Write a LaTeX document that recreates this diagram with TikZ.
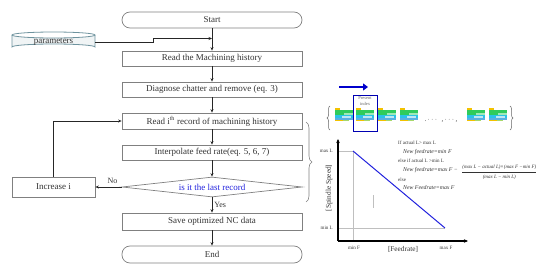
\documentclass[tikz,border=0pt]{standalone}
\usepackage{fontspec}
\usepackage{amsmath}
\setmainfont{Liberation Serif}
\usetikzlibrary{arrows.meta,shapes.geometric,decorations.pathreplacing}
\definecolor{boxline}{HTML}{808080}
\definecolor{txt}{HTML}{333333}
\definecolor{cyl}{HTML}{6E939E}
\definecolor{qblue}{HTML}{2222DD}
\definecolor{icyel}{HTML}{F2C200}
\definecolor{icgreen}{HTML}{2FCB5C}
\definecolor{iccyan}{HTML}{29C3E8}
\definecolor{iclblue}{HTML}{BDE7F4}
\definecolor{icblue}{HTML}{5AAFE0}
\definecolor{iclime}{HTML}{A8D86A}
\tikzset{
  flowbox/.style={draw=boxline, line width=0.7pt, fill=white, minimum width=180pt, text=txt, font=\fontsize{9}{10}\selectfont, inner sep=1pt},
  termbox/.style={flowbox, rounded corners=8pt},
  decbox/.style={draw=boxline, line width=0.7pt, shape=diamond, aspect=9, inner sep=0pt, minimum width=180pt, minimum height=20pt, text=qblue, font=\fontsize{9}{10}\selectfont},
  flowarrow/.style={draw=black!85, line width=0.6pt, -{Stealth[length=3.5pt,width=3pt]}},
  smalltxt/.style={text=txt, font=\fontsize{5}{6}\selectfont, inner sep=0pt},
  italtxt/.style={text=txt, font=\fontsize{5.8}{6.5}\selectfont\itshape, inner sep=0pt},
  axislabel/.style={text=txt, font=\fontsize{5}{6}\selectfont, inner sep=0pt},
  graylines/.style={draw=black!25, line width=0.6pt},
  pics/record/.style={code={
    \fill[icgreen] (0,1.5) rectangle (18,6.5);
    \fill[icyel] (0,0) rectangle (5,1.8);
    \fill[white!55!icgreen] (9,4.8) rectangle (18,6.5);
    \fill[iccyan] (0,6.5) rectangle (18,9.5);
    \fill[iclblue] (7,8) rectangle (16,9.5);
    \fill[icblue] (0,9.5) rectangle (18,11.5);
    \fill[icyel] (0,11.5) rectangle (8,13);
    \fill[iclime] (8,11.5) rectangle (14,13);
  }}
}
\begin{document}
\begin{tikzpicture}[x=1pt,y=-1pt]
\useasboundingbox (0,0) rectangle (550,273);
% flowchart nodes
\node[termbox, minimum height=16pt] (start) at (212,20) {Start};
\node[flowbox, minimum height=15pt] (read) at (212,58.5) {Read the Machining history};
\node[flowbox, minimum height=15pt] (diag) at (212,89.5) {Diagnose chatter and remove (eq. 3)};
\node[flowbox, minimum height=16pt] (readi) at (212,121) {Read i\textsuperscript{th} record of machining history};
\node[flowbox, minimum height=15pt] (interp) at (212,152.5) {Interpolate feed rate(eq. 5, 6, 7)};
\node[decbox] (dec) at (212,187) {is it the last record};
\node[flowbox, minimum width=83pt, minimum height=20pt] (incr) at (53.5,187) {Increase i};
\node[flowbox, minimum height=17pt] (save) at (212,221.5) {Save optimized NC data};
\node[termbox, minimum height=17pt] (end) at (212,254.5) {End};
% parameters cylinder
\fill[white!90!cyl] (12,35) -- (12,47) arc[start angle=180, end angle=360, x radius=41.5, y radius=3] -- (95,35) arc[start angle=0, end angle=180, x radius=41.5, y radius=3] -- cycle;
\draw[cyl, line width=0.8pt] (12,35) -- (12,47) arc[start angle=180, end angle=360, x radius=41.5, y radius=3] -- (95,35);
\draw[cyl, line width=0.8pt] (53.5,35) ellipse[x radius=41.5, y radius=3];
\node[text=txt, font=\fontsize{9}{10}\selectfont, minimum width=83pt, minimum height=18pt, inner sep=0pt] (param) at (53.5,42) {parameters};
\coordinate (join) at (212,38.5);
% connectors
\draw[flowarrow] (start) -- (read);
\draw[flowarrow] (param.east) -- (153,42) -- (153,38.5) -- (join);
\draw[flowarrow] (read) -- (diag);
\draw[flowarrow] (diag) -- (readi);
\draw[flowarrow] (readi) -- (interp);
\draw[flowarrow] (interp) -- (dec);
\draw[flowarrow] (dec) -- node[right, text=txt, font=\fontsize{8}{9}\selectfont, inner sep=2pt] {Yes} (save);
\draw[flowarrow] (save) -- (end);
\draw[flowarrow] (dec.west) -- node[above, pos=0.35, text=txt, font=\fontsize{8}{9}\selectfont, inner sep=3pt] {No} (incr.east);
\draw[flowarrow] (incr.north) |- (readi.west);
% brace by flowchart
\draw[boxline, line width=0.6pt, decorate, decoration={brace, amplitude=6pt}] (306,122) -- (306,202);
% moving arrow
\coordinate (ba) at (339,87);
\coordinate (bb) at (368,87);
\draw[blue!80!black, line width=2.6pt, -{Triangle[length=5pt,width=7pt]}] (ba) -- (bb);
% record strip
\draw[black!60, line width=0.5pt, decorate, decoration={brace, amplitude=3pt}] (330,130) -- (330,106);
\draw[black!60, line width=0.5pt, decorate, decoration={brace, amplitude=3pt}] (510,106) -- (510,130);
\foreach \xx in {335,356,378,400,467,489} { \pic at (\xx,108) {record}; }
\node[smalltxt, font=\fontsize{7}{8}\selectfont] (dots) at (441,120) {.\,$\cdots$\, ,\,$\cdots$,};
\draw[blue!70!black, line width=0.8pt] (353,95) rectangle (377,131);
\node[smalltxt, align=center, text=black!60, font=\fontsize{4.5}{5.5}\selectfont] (present) at (365,101) {Present\\index};
% graph
\coordinate (O) at (338,241);
\coordinate (ytop) at (338,139);
\coordinate (xend) at (468,241);
\draw[graylines] (338,151) -- (353,151) -- (353,241);
\draw[graylines] (338,228) -- (445,228);
\draw[graylines] (373,195) -- (373,208);
\draw[black, line width=1.1pt, -{Stealth[length=4pt,width=3.5pt]}] (O) -- (ytop);
\draw[black, line width=1.1pt, -{Stealth[length=4pt,width=3.5pt]}] (O) -- (xend);
\coordinate (hi) at (353,151);
\coordinate (lo) at (445,228);
\draw[qblue, line width=1pt] (hi) -- (lo);
\node[axislabel, anchor=east] (maxL) at (333,151) {max L};
\node[axislabel, anchor=east] (minL) at (333,228) {min L};
\node[axislabel] (minF) at (354,248) {min F};
\node[axislabel] (maxF) at (446,248) {max F};
\node[text=txt, font=\fontsize{7.3}{8}\selectfont, inner sep=0pt] (xlab) at (403,249) {[Feedrate]};
\node[text=txt, font=\fontsize{7.3}{8}\selectfont, inner sep=0pt, rotate=90] (ylab) at (329,188) {[Spindle Speed]};
% rule text
\node[smalltxt, anchor=west] (r1) at (398,143) {If actual L> max L};
\node[italtxt, anchor=west] (r2) at (403,152) {New feedrate=min F};
\node[smalltxt, anchor=west] (r3) at (398,161) {else if actual L >min L};
\node[italtxt, anchor=west] (r4) at (403,170.5) {New feedrate=max F −};
\node[smalltxt, anchor=west, font=\fontsize{5}{6}\selectfont] (r4f) at (461,172.5) {$\dfrac{\textit{(max L − actual L)×(max F −min F)}}{\textit{(max L − min L)}}$};
\node[smalltxt, anchor=west] (r5) at (398,179.5) {else};
\node[italtxt, anchor=west] (r6) at (403,188) {New Feedrate=max F};
\end{tikzpicture}
\end{document}
